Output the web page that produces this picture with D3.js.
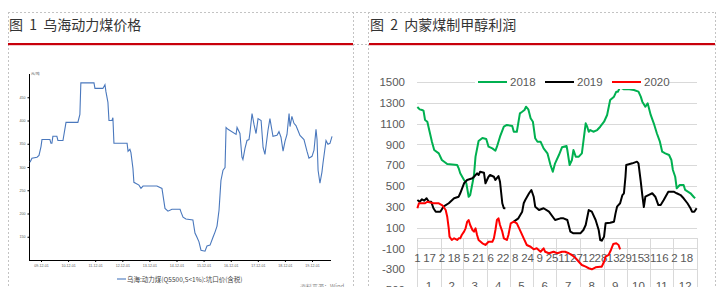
<!DOCTYPE html>
<html><head><meta charset="utf-8">
<script src="https://cdn.jsdelivr.net/npm/d3@7"></script>
<style>html,body{margin:0;padding:0;background:#fff;overflow:hidden}svg{display:block}text.ttl{white-space:pre}</style>
</head><body>
<svg id="c" width="720" height="287"></svg>
<script>
// ================= DATA =================
const title1 = "图  1  乌海动力煤价格";
const title2 = "图  2  内蒙煤制甲醇利润";

// Figure 1: Wuhai thermal coal price (yuan/ton)
const coalDates = [
 "2009-07-06","2009-08-01","2009-10-08","2009-11-04","2009-12-01","2009-12-14","2010-03-31","2010-04-14","2010-04-27","2010-05-10",
 "2010-07-03","2010-07-17","2010-09-23","2010-11-03","2011-04-12","2011-05-09","2011-05-22","2011-11-15","2011-11-28","2012-03-14",
 "2012-04-11","2012-04-24","2012-05-21","2012-06-04","2012-07-14","2012-07-27","2012-08-10","2013-02-03","2013-02-16","2013-03-13",
 "2013-03-27","2013-04-23","2013-05-06","2013-07-13","2013-08-09","2013-09-06","2014-03-12","2014-05-19","2014-06-29","2014-08-08",
 "2014-10-01","2015-01-18","2015-01-31","2015-02-27","2015-04-07","2015-07-10","2015-08-07","2015-09-03","2015-09-30","2015-10-27",
 "2015-12-20","2016-01-16","2016-02-26","2016-04-06","2016-05-03","2016-05-30","2016-06-26","2016-07-09","2016-07-22","2016-08-19",
 "2016-09-15","2016-09-29","2016-10-25","2017-02-11","2017-02-24","2017-04-04","2017-05-01","2017-05-14","2017-06-11","2017-07-08",
 "2017-08-04","2017-08-17","2017-09-14","2017-10-11","2017-11-07","2017-12-04","2018-01-14","2018-02-10","2018-03-07","2018-04-17",
 "2018-05-13","2018-06-23","2018-08-16","2018-09-12","2018-10-09","2018-11-06","2018-12-02","2018-12-29","2019-01-26","2019-02-08",
 "2019-03-05","2019-04-02","2019-04-29","2019-05-25","2019-06-22","2019-08-15","2019-09-24","2019-10-21","2019-12-01","2019-12-28",
 "2020-01-24","2020-02-07","2020-02-21","2020-03-17","2020-04-13","2020-04-27","2020-06-07","2020-07-03","2020-07-30","2020-08-27"];
const coalPrices = [
 310,319,321,325,344,359,359,351,351,366,
 366,357,357,396,396,413,481,481,469,469,
 477,462,439,400,400,406,351,351,334,338,
 331,297,267,261,254,259,259,254,211,205,
 209,209,203,192,188,186,158,149,139,121,
 119,130,132,149,160,173,207,239,271,293,
 299,385,381,370,385,372,321,316,340,357,
 359,374,415,391,372,404,400,342,327,379,
 404,366,368,376,364,334,355,370,415,387,
 409,394,389,379,368,359,334,319,323,336,
 381,359,293,265,289,308,357,349,351,366];
const coalXTickDates = ["2009-12-01","2010-12-01","2011-12-01","2012-12-01","2013-12-01","2014-12-01","2015-12-01","2016-12-01","2017-12-01","2018-12-01","2019-12-01"];
const coalXTickLabels = ["09-12-01","10-12-01","11-12-01","12-12-01","13-12-01","14-12-01","15-12-01","16-12-01","17-12-01","18-12-01","19-12-01"];
const coalYTicks = [150,200,250,300,350,400,450];
const coalUnit = "元/吨";
const coalLegend = "乌海:动力煤(Q5500,S<1%):坑口价(含税)";
const coalSource = "资料来源：Wind";

// Figure 2: Inner Mongolia coal-to-methanol profit (yuan/ton), daily categories of a leap year
const monthLabels = ["1","2","3","4","5","6","7","8","9","10","11","12"];
const dayTickLabels = ["1","17","2","18","5","21","6","22","8","24","9","25","11","27","12","28","13","29","15","31","16","2","18"];
const profitYTicks = [1500,1300,1100,900,700,500,300,100,-100,-300,-500];
const seriesNames = ["2018","2019","2020"];
const seriesColors = ["#00b050","#000000","#ff0000"];

const days2018 = [0,3,6,8,10,13,16,19,22,28,32,39,52,54,56,61,64,67,69,72,74,76,80,85,90,93,98,102,104,108,113,117,124,126,130,134,137,140,142,145,148,151,154,157,161,165,170,174,177,180,185,189,195,196,199,202,204,207,211,215,220,222,224,226,230,235,239,244,248,252,257,260,262,265,270,275,283,289,292,294,298,301,305,309,313,317,320,324,329,332,334,337,339,343,348,350,357,361,363];
const vals2018 = [1260,1237,1231,1224,1135,1118,1022,926,846,814,750,711,702,670,622,558,526,397,413,526,606,782,933,962,952,878,862,839,878,974,1070,1087,1077,1022,1022,1199,1214,1231,1262,1237,1151,1118,959,926,926,862,814,702,637,718,798,872,885,846,702,750,846,782,782,814,1103,1070,1022,1038,1022,1038,1070,1118,1183,1327,1359,1407,1407,1449,1430,1433,1423,1407,1359,1311,1262,1295,1183,1103,1007,926,830,814,798,750,654,589,478,510,510,462,430,397,382];

const days2019 = [0,3,6,9,12,15,18,21,24,30,34,41,48,54,56,61,65,72,74,78,80,82,87,89,91,93,95,100,102,106,108,111,113,115,120,126,132,137,139,141,146,149,152,154,159,165,172,180,187,191,196,200,204,213,217,220,224,228,233,237,239,241,244,246,252,257,259,261,265,268,270,272,273,281,287,289,292,294,296,298,302,307,311,315,318,322,328,335,339,344,348,353,357,359,362,365];
const vals2019 = [365,349,372,359,382,349,349,286,253,253,301,334,382,397,430,526,558,574,589,622,606,637,628,526,558,589,606,589,558,596,541,334,286,286,null,157,189,253,334,365,430,462,397,301,269,286,253,173,189,189,173,61,45,45,77,125,269,253,173,77,-19,-26,13,141,147,157,237,301,334,413,430,589,702,718,734,718,541,413,298,397,413,430,397,317,317,365,445,445,430,413,382,334,286,253,253,286];

const days2020 = [0,2,10,13,21,28,32,34,37,39,41,42,45,48,52,54,56,58,61,63,65,67,69,72,74,76,78,80,85,89,93,98,100,102,104,106,108,111,113,117,119,122,126,130,135,139,143,148,152,156,161,165,167,172,178,183,189,193,198,202,207,211,215,220,224,228,233,239,241,244,246,250,253,256,260,263,265];
const vals2020 = [286,334,334,349,334,334,317,301,269,205,93,13,-19,-3,-19,-3,-3,29,61,93,154,173,125,77,61,93,29,-19,-51,-67,-36,-36,-3,77,173,189,125,61,-3,-19,29,141,157,141,61,-3,-67,-84,-109,-99,-132,-99,-132,-147,-132,-147,-132,-132,-147,-163,-195,-228,-260,-276,-291,-301,-282,-276,-276,-228,-180,-163,-115,-58,-51,-67,-109];

// ================= DRAW =================
const svg = d3.select("#c");
const CJK = "'Noto Sans CJK SC','Noto Sans',sans-serif";
const LAT = "'Liberation Sans',Arial,sans-serif";
const parse = d3.timeParse("%Y-%m-%d");

// frames
const dash = "#c3c3c3";
const fr = svg.append("g").attr("fill","none").attr("stroke",dash).attr("stroke-width",1).attr("stroke-dasharray","2,2");
fr.append("line").attr("x1",8).attr("x2",716).attr("y1",12.5).attr("y2",12.5);
[8.5,353.5,368.5,715.5].forEach(x=>fr.append("line").attr("x1",x).attr("x2",x).attr("y1",12).attr("y2",287));
fr.append("line").attr("x1",353).attr("x2",369).attr("y1",44.5).attr("y2",44.5);

// titles & red rules
svg.append("text").attr("class","ttl").attr("x",9).attr("y",30).attr("font-family",CJK).attr("font-size",14).attr("fill","#333").text(title1);
svg.append("text").attr("class","ttl").attr("x",370).attr("y",30).attr("font-family",CJK).attr("font-size",14).attr("fill","#333").text(title2);
svg.append("rect").attr("x",8).attr("y",43).attr("width",345).attr("height",2.2).attr("fill","#c8000b");
svg.append("rect").attr("x",369).attr("y",43).attr("width",346).attr("height",2.2).attr("fill","#c8000b");

// ---------- Figure 1 ----------
{
  const x = d3.scaleTime().domain([parse(coalXTickDates[0]), parse(coalXTickDates[coalXTickDates.length-1])]).range([41,312]);
  const y = d3.scaleLinear().domain([100,500]).range([260,74]);
  const g = svg.append("g");
  const ticks = coalXTickDates.map(parse);
  const xa = d3.axisBottom(x).tickValues(ticks).tickFormat((d,i)=>coalXTickLabels[i]).tickSize(2).tickPadding(2).tickSizeOuter(0);
  const gx = g.append("g").attr("transform","translate(0,260)").call(xa);
  gx.select(".domain").attr("d","M29,0.5H331").attr("stroke","#000");
  gx.selectAll(".tick line").attr("stroke","#000");
  gx.selectAll("text").attr("font-family",LAT).attr("font-size",3.6).attr("fill","#555");
  const ya = d3.axisLeft(y).tickValues(coalYTicks).tickSize(1.5).tickPadding(2).tickSizeOuter(0);
  const gy = g.append("g").attr("transform","translate(29,0)").call(ya);
  gy.select(".domain").attr("d","M0.5,74V260").attr("stroke","#000");
  gy.selectAll(".tick line").attr("stroke","#000");
  gy.selectAll("text").attr("font-family",LAT).attr("font-size",3.6).attr("fill","#555");
  g.append("text").attr("x",31).attr("y",75).attr("font-family",CJK).attr("font-size",3.6).attr("fill","#555").text(coalUnit);
  const data = coalDates.map((d,i)=>({d:parse(d),v:coalPrices[i]}));
  g.append("path").datum(data).attr("fill","none").attr("stroke","#4a78bd").attr("stroke-width",1.1)
   .attr("d",d3.line().x(d=>x(d.d)).y(d=>y(d.v)));
  g.append("line").attr("x1",117).attr("x2",126).attr("y1",279).attr("y2",279).attr("stroke","#4a78bd").attr("stroke-width",1.1);
  g.append("text").attr("x",127).attr("y",281.5).attr("font-family",CJK).attr("font-size",6.5).attr("fill","#444").text(coalLegend);
  g.append("text").attr("x",300).attr("y",289).attr("font-family",CJK).attr("font-size",6).attr("fill","#888").text(coalSource);
}

// ---------- Figure 2 ----------
{
  const categories = d3.range(366);
  const x = d3.scaleBand().domain(categories).range([417,697]);
  const cx = i => x(i) + x.bandwidth()/2;
  const y = d3.scaleLinear().domain([-500,1500]).range([290,82]);
  const g = svg.append("g");
  const grid = "#d9d9d9";
  g.selectAll("line.grid").data(profitYTicks).join("line").attr("class","grid")
   .attr("x1",417).attr("x2",697).attr("y1",d=>Math.round(y(d))+0.5).attr("y2",d=>Math.round(y(d))+0.5)
   .attr("stroke",grid).attr("stroke-width",1);
  g.selectAll("text.yl").data(profitYTicks).join("text").attr("class","yl")
   .attr("x",405).attr("y",d=>y(d)).attr("dy","0.36em").attr("text-anchor","end")
   .attr("font-family",LAT).attr("font-size",11.5).attr("fill","#595959").text(d=>d);
  g.append("line").attr("x1",417).attr("x2",697).attr("y1",Math.round(y(0))+0.5).attr("y2",Math.round(y(0))+0.5).attr("stroke",grid);
  const yearDays = d3.timeDay.range(new Date(2020,0,1), new Date(2021,0,1));
  const monthStarts = monthLabels.map((m,i)=>yearDays.findIndex(d=>d.getMonth()===i));
  const bounds = monthStarts.concat([366]);
  const bx = d => d===366 ? 697 : x(d);
  g.selectAll("line.mb").data(bounds).join("line").attr("class","mb")
   .attr("x1",d=>Math.round(bx(d))+0.5).attr("x2",d=>Math.round(bx(d))+0.5)
   .attr("y1",y(0)).attr("y2",292).attr("stroke",grid);
  g.selectAll("text.dl").data(dayTickLabels).join("text").attr("class","dl")
   .attr("x",(d,i)=>cx(i*16)).attr("y",262).attr("text-anchor","middle")
   .attr("font-family",LAT).attr("font-size",11.5).attr("fill","#595959").text(d=>d);
  g.selectAll("text.ml").data(monthLabels).join("text").attr("class","ml")
   .attr("x",(d,i)=>(bx(bounds[i]) + bx(bounds[i+1]))/2).attr("y",290).attr("text-anchor","middle")
   .attr("font-family",LAT).attr("font-size",11.5).attr("fill","#595959").text(d=>d);
  const series = [[days2018,vals2018],[days2019,vals2019],[days2020,vals2020]];
  const line = d3.line().defined(d=>d.v!=null).x(d=>cx(d.i)).y(d=>y(d.v));
  series.forEach(([ds,vs],k)=>{
    const data = ds.map((dd,j)=>({i:dd,v:vs[j]}));
    g.append("path").datum(data).attr("fill","none").attr("stroke",seriesColors[k]).attr("stroke-width",2)
     .attr("stroke-linejoin","round").attr("d",line);
  });
  const lg = g.append("g");
  lg.append("rect").attr("x",475).attr("y",75).attr("width",193).attr("height",14).attr("fill","#fff");
  seriesNames.forEach((n,k)=>{
    const x0 = 478 + k*67;
    lg.append("line").attr("x1",x0).attr("x2",x0+29).attr("y1",82).attr("y2",82).attr("stroke",seriesColors[k]).attr("stroke-width",2);
    lg.append("text").attr("x",x0+32).attr("y",82).attr("dy","0.36em").attr("font-family",LAT).attr("font-size",11.5).attr("fill","#595959").text(n);
  });
}
</script>
</body></html>
